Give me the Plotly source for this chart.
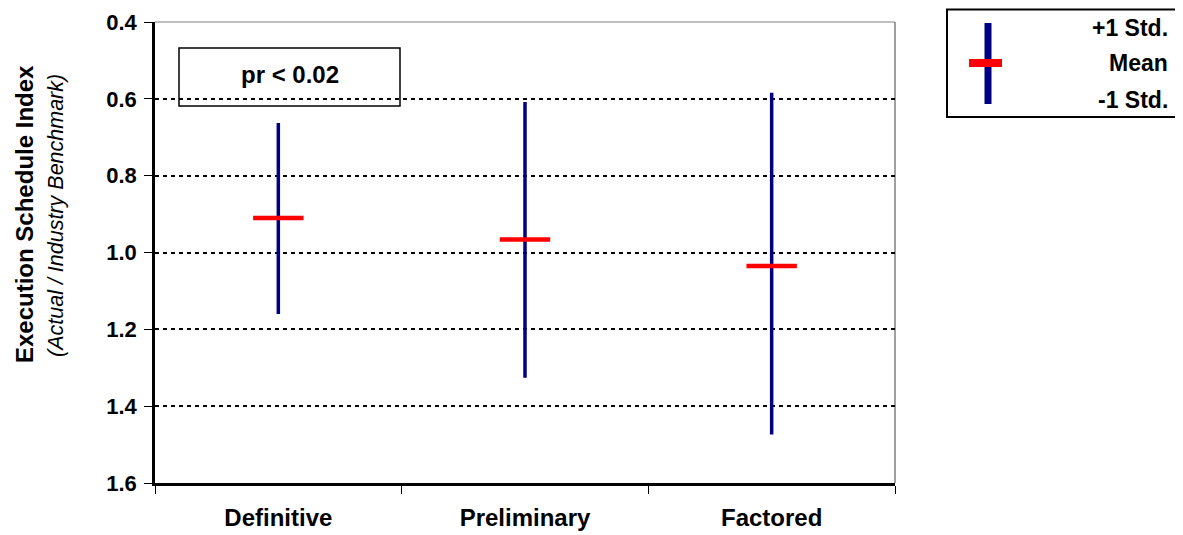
import plotly.graph_objects as go

categories = ["Definitive", "Preliminary", "Factored"]
upper_std = [0.663, 0.608, 0.584]   # +1 Std. (top of whisker, axis reversed)
mean_vals = [0.910, 0.966, 1.035]
lower_std = [1.160, 1.326, 1.474]   # -1 Std.
y_ticks = [0.4, 0.6, 0.8, 1.0, 1.2, 1.4, 1.6]

FONT = "Liberation Sans, Arial, sans-serif"
NAVY = "#000080"
RED = "#FF0000"

fig = go.Figure()

for cat, lo, hi in zip(categories, upper_std, lower_std):
    fig.add_trace(go.Scatter(
        x=[cat, cat], y=[lo, hi], mode="lines",
        line=dict(color=NAVY, width=3.5), hoverinfo="skip", showlegend=False))

fig.add_trace(go.Scatter(
    x=categories, y=mean_vals, mode="markers",
    marker=dict(symbol="line-ew", size=36, line=dict(color=RED, width=4.5)),
    showlegend=False))

OFF = 8  # default page body margin
W, H = 1183 - OFF, 535 - OFF
# plot area in page pixels
L, R, T, B = 155, 895, 22, 483

def px(x):
    return (x - L) / (R - L)

def py(y):
    return (B - y) / (B - T)

shapes = [
    dict(type="line", xref="paper", yref="paper", x0=0, x1=1, y0=1, y1=1,
         line=dict(color="#808080", width=1), layer="below"),
    dict(type="line", xref="paper", yref="paper", x0=1, x1=1, y0=0, y1=1,
         line=dict(color="#808080", width=1.5), layer="below"),
    # pr box
    dict(type="rect", xref="paper", yref="paper", x0=px(179), x1=px(400),
         y0=py(106), y1=py(48), line=dict(color="black", width=1.5),
         fillcolor="rgba(0,0,0,0)"),
    # legend box
    dict(type="rect", xref="paper", yref="paper", x0=px(947), x1=px(1190),
         y0=py(117), y1=py(9.5), line=dict(color="black", width=2),
         fillcolor="white"),
    # legend symbol
    dict(type="line", xref="paper", yref="paper", x0=px(988), x1=px(988),
         y0=py(104), y1=py(23), line=dict(color=NAVY, width=7)),
    dict(type="line", xref="paper", yref="paper", x0=px(969), x1=px(1002),
         y0=py(63), y1=py(63), line=dict(color=RED, width=8)),
]

def label(text, x, y, size, xanchor="center", angle=0):
    return dict(text=text, xref="paper", yref="paper", x=px(x), y=py(y),
                xanchor=xanchor, yanchor="middle", textangle=angle,
                showarrow=False, font=dict(family=FONT, size=size, color="black"))

annotations = [
    label("<b>pr < 0.02</b>", 289.5, 75, 24),
    label("<b>+1 Std.</b>", 1170, 28, 23, xanchor="right"),
    label("<b>Mean</b>", 1170, 63, 23, xanchor="right"),
    label("<b>-1 Std.</b>", 1170, 100, 23, xanchor="right"),
    label("<b>Execution Schedule Index</b>", 24, 214, 24, angle=-90),
    label("<i>(Actual / Industry Benchmark)</i>", 56, 216, 21.5, angle=-90),
]

fig.update_layout(
    width=W, height=H,
    margin=dict(l=L - OFF, r=W - (R - OFF), t=T - OFF, b=H - (B - OFF), pad=0,
                autoexpand=False),
    paper_bgcolor="white", plot_bgcolor="white",
    showlegend=False,
    shapes=shapes, annotations=annotations,
    font=dict(family=FONT, color="black"),
)

fig.update_xaxes(
    type="category", categoryorder="array", categoryarray=categories,
    range=[-0.5, 2.5], tickson="boundaries", automargin=False,
    showline=True, linecolor="black", linewidth=2.5,
    ticks="outside", ticklen=8, tickwidth=1, tickcolor="black",
    showgrid=False, zeroline=False,
    tickfont=dict(family=FONT, size=24, color="black"),
    tickprefix="<b>", ticksuffix="</b>", ticklabelstandoff=11,
)

fig.update_yaxes(
    range=[1.6, 0.4], autorange=False, automargin=False,
    tickvals=y_ticks, ticktext=[f"<b>{v:.1f}</b>" for v in y_ticks],
    showline=True, linecolor="black", linewidth=2.5,
    ticks="outside", ticklen=8, tickwidth=1, tickcolor="black",
    showgrid=True, gridcolor="black", gridwidth=2, griddash="4px,4px",
    zeroline=False,
    tickfont=dict(family=FONT, size=22, color="black"),
    ticklabelstandoff=3,
)

fig.write_html("out.html")
